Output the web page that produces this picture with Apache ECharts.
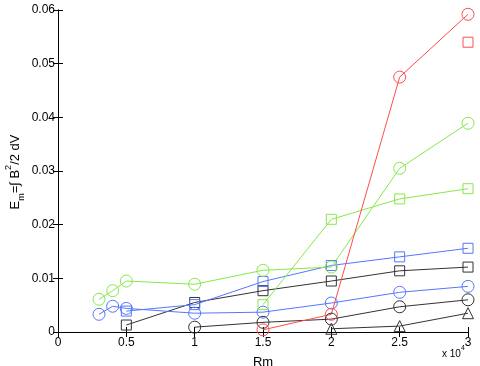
<!DOCTYPE html>
<html>
<head>
<meta charset="utf-8">
<script src="https://cdn.jsdelivr.net/npm/echarts@6/dist/echarts.min.js"></script>
<style>
  html, body { margin: 0; padding: 0; background: #fff; }
  #chart { width: 480px; height: 366px; }
</style>
</head>
<body>
<div id="chart"></div>
<script>
// Rm values in units of 1e4
var redCircle = [[1.5, 0.0004], [2, 0.0033], [2.5, 0.0475], [3, 0.0592]];
var redSquare = [[3, 0.0540]];
var greenCircle = [[0.3, 0.0061], [0.4, 0.0077], [0.5, 0.0095], [1, 0.0089], [1.5, 0.0115], [2, 0.0121], [2.5, 0.0305], [3, 0.0389]];
var greenSquare = [[1.5, 0.0051], [2, 0.0210], [2.5, 0.0248], [3, 0.0267]];
var blueCircle = [[0.3, 0.0033], [0.4, 0.0048], [0.5, 0.0044], [1, 0.0035], [1.5, 0.0037], [2, 0.0054], [2.5, 0.0074], [3, 0.0085]];
var blueSquare = [[0.5, 0.0039], [1, 0.0051], [1.5, 0.0094], [2, 0.0124], [2.5, 0.0140], [3, 0.0156]];
var blackSquare = [[0.5, 0.0013], [1, 0.0055], [1.5, 0.0077], [2, 0.0095], [2.5, 0.0114], [3, 0.0121]];
var blackCircle = [[1, 0.0009], [1.5, 0.0018], [2, 0.0024], [2.5, 0.0047], [3, 0.0060]];
var blackTriangle = [[2, 0.0006], [2.5, 0.0011], [3, 0.0035]];

var red = '#ff4d4d', green = '#88e84a', blue = '#5577ff', black = '#333333';
var font = 'Liberation Sans, Arial, sans-serif';

function mk(data, color, symbol, size, showLine) {
  return {
    type: 'line',
    data: data,
    symbol: symbol,
    symbolSize: size,
    showSymbol: true,
    lineStyle: { color: color, width: 1, opacity: showLine === false ? 0 : 1 },
    itemStyle: { color: 'rgba(0,0,0,0)', borderColor: color, borderWidth: 1 },
    animation: false,
    z: 3
  };
}

var chart = echarts.init(document.getElementById('chart'), null, { renderer: 'canvas' });
var tickStyle = { show: true, inside: true, length: 5, lineStyle: { color: '#000' } };
var option = {
  backgroundColor: '#fff',
  grid: { left: 58, right: 12, top: 10, bottom: 34, containLabel: false, outerBoundsMode: 'none' },
  xAxis: [{
    type: 'value', min: 0, max: 3, interval: 0.5,
    name: 'Rm', nameLocation: 'middle', nameGap: 24,
    nameTextStyle: { fontFamily: font, fontSize: 13, color: '#000' },
    axisLine: { show: true, onZero: false, lineStyle: { color: '#000' } },
    axisTick: tickStyle,
    axisLabel: { fontFamily: font, fontSize: 12, color: '#000', margin: 5 },
    splitLine: { show: false }
  }, {
    type: 'value', min: 0, max: 3, interval: 0.5, position: 'top',
    axisLine: { show: true, lineStyle: { color: '#000' } },
    axisTick: tickStyle, axisLabel: { show: false }, splitLine: { show: false }
  }],
  yAxis: [{
    type: 'value', min: 0, max: 0.06, interval: 0.01,
    axisLine: { show: true, lineStyle: { color: '#000' } },
    axisTick: tickStyle,
    axisLabel: {
      fontFamily: font, fontSize: 12, color: '#000', margin: 3,
      formatter: function (v) { return v === 0 ? '0' : v.toFixed(2); }
    },
    splitLine: { show: false }
  }, {
    type: 'value', min: 0, max: 0.06, interval: 0.01, position: 'right',
    axisLine: { show: true, lineStyle: { color: '#000' } },
    axisTick: tickStyle, axisLabel: { show: false }, splitLine: { show: false }
  }],
  graphic: [{
    type: 'text', x: 15, y: 172, rotation: Math.PI / 2,
    style: {
      text: '{n|E}{sub|m}{n|=∫ B}{sup|2}{n|/2 dV}', align: 'center', verticalAlign: 'middle',
      rich: {
        n: { fontFamily: font, fontSize: 13, fill: '#000', lineHeight: 22, verticalAlign: 'middle' },
        sub: { fontFamily: font, fontSize: 9, fill: '#000', lineHeight: 10, verticalAlign: 'bottom' },
        sup: { fontFamily: font, fontSize: 9, fill: '#000', lineHeight: 10, verticalAlign: 'top' }
      }
    }
  }, {
    type: 'text', x: 442, y: 354,
    style: {
      text: '{a|x 10}{b|4}', align: 'left', verticalAlign: 'middle',
      rich: {
        a: { fontFamily: font, fontSize: 10, fill: '#000', lineHeight: 18, verticalAlign: 'middle' },
        b: { fontFamily: font, fontSize: 7, fill: '#000', lineHeight: 8, verticalAlign: 'top' }
      }
    }
  }],
  series: [
    mk(blackTriangle, black, 'triangle', 11),
    mk(blackCircle, black, 'circle', 12),
    mk(blackSquare, black, 'rect', 10),
    mk(blueCircle, blue, 'circle', 12),
    mk(blueSquare, blue, 'rect', 10),
    mk(greenSquare, green, 'rect', 10),
    mk(greenCircle, green, 'circle', 12),
    mk(redSquare, red, 'rect', 10, false),
    mk(redCircle, red, 'circle', 12)
  ]
};
chart.setOption(option);
</script>
</body>
</html>
